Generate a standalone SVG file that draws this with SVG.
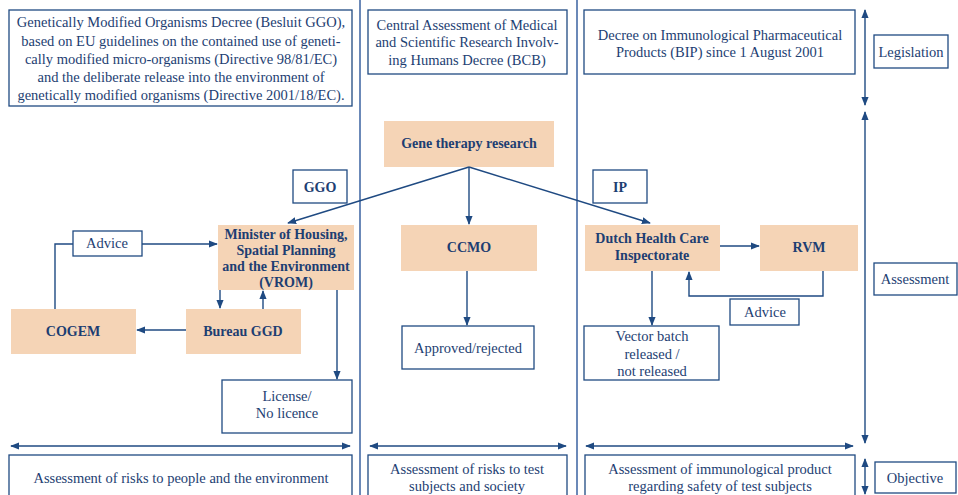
<svg xmlns="http://www.w3.org/2000/svg" width="958" height="495" viewBox="0 0 958 495">
<style>
text{font-family:"Liberation Serif","Times New Roman",serif;fill:#1d3e72;font-size:14.5px;text-anchor:middle}
.b{font-weight:bold;font-size:14px}
.box{fill:#fff;stroke:#1f4a82;stroke-width:1.3}
.fill{fill:#f5d4b6;stroke:none}
.ln{fill:none;stroke:#1f4a82;stroke-width:1.4}
.div{stroke:#3a62a0;stroke-width:1.5}
</style>
<defs>
<marker id="ah" viewBox="0 0 10 10" refX="9" refY="5" markerWidth="9" markerHeight="9" markerUnits="userSpaceOnUse" orient="auto-start-reverse">
<path d="M0,1 L10,5 L0,9 Z" fill="#1f4a82"/>
</marker>
</defs>
<rect width="958" height="495" fill="#fff"/>
<g id="dividers">
<line class="div" x1="360" y1="0" x2="360" y2="495"/>
<line class="div" x1="577" y1="0" x2="577" y2="495"/>
</g>
<g id="leg-ggo"><rect class="box" x="9" y="10" width="343" height="96"/>
<text x="181" y="27">Genetically Modified Organisms Decree (Besluit GGO),</text>
<text x="181" y="46">based on EU guidelines on the contained use of geneti-</text>
<text x="181" y="64">cally modified micro-organisms (Directive 98/81/EC)</text>
<text x="181" y="82">and the deliberate release into the environment of</text>
<text x="181" y="100">genetically modified organisms (Directive 2001/18/EC).</text></g>
<g id="leg-bcb"><rect class="box" x="368" y="10" width="199" height="64"/>
<text x="467" y="30">Central Assessment of Medical</text>
<text x="467" y="47">and Scientific Research Involv-</text>
<text x="467" y="65">ing Humans Decree (BCB)</text></g>
<g id="leg-bip"><rect class="box" x="584" y="10" width="271" height="64"/>
<text x="720" y="40">Decree on Immunological Pharmaceutical</text>
<text x="720" y="57">Products (BIP) since 1 August 2001</text></g>
<g id="legislation"><rect class="box" x="874" y="35" width="74" height="33"/><text x="911" y="57">Legislation</text></g>
<g id="assessment"><rect class="box" x="874" y="263" width="83" height="32"/><text x="915" y="284">Assessment</text></g>
<g id="objective"><rect class="box" x="875" y="462" width="81" height="31"/><text x="915" y="483">Objective</text></g>
<g id="obj-1"><rect class="box" x="9" y="455" width="343" height="50"/><text x="181" y="483">Assessment of risks to people and the environment</text></g>
<g id="obj-2"><rect class="box" x="368" y="455" width="199" height="50"/><text x="467" y="474">Assessment of risks to test</text><text x="467" y="491">subjects and society</text></g>
<g id="obj-3"><rect class="box" x="585" y="455" width="270" height="50"/><text x="720" y="474">Assessment of immunological product</text><text x="720" y="491">regarding safety of test subjects</text></g>
<g id="gene"><rect class="fill" x="384" y="121" width="170" height="46"/><text class="b" x="469" y="148">Gene therapy research</text></g>
<g id="ggo"><rect class="box" x="293" y="170" width="54" height="33"/><text class="b" x="320" y="192">GGO</text></g>
<g id="ip"><rect class="box" x="593" y="170" width="54" height="33"/><text class="b" x="620" y="192">IP</text></g>
<g id="vrom"><rect class="fill" x="218" y="225" width="136" height="65"/>
<text class="b" x="286" y="239">Minister of Housing,</text>
<text class="b" x="286" y="255">Spatial Planning</text>
<text class="b" x="286" y="271">and the Environment</text>
<text class="b" x="286" y="287">(VROM)</text></g>
<g id="advice-l"><rect class="box" x="73" y="231" width="69" height="25"/><text x="107" y="248">Advice</text></g>
<g id="cogem"><rect class="fill" x="11" y="309" width="125" height="45"/><text class="b" x="73" y="336">COGEM</text></g>
<g id="bureau"><rect class="fill" x="186" y="309" width="115" height="45"/><text class="b" x="243" y="336">Bureau GGD</text></g>
<g id="license"><rect class="box" x="222" y="380" width="130" height="53"/><text x="287" y="401">License/</text><text x="287" y="418">No licence</text></g>
<g id="ccmo"><rect class="fill" x="401" y="225" width="136" height="46"/><text class="b" x="469" y="252">CCMO</text></g>
<g id="approved"><rect class="box" x="402" y="326" width="132" height="43"/><text x="468" y="353">Approved/rejected</text></g>
<g id="igz"><rect class="fill" x="585" y="225" width="135" height="46"/><text class="b" x="652" y="243">Dutch Health Care</text><text class="b" x="652" y="260">Inspectorate</text></g>
<g id="rvm"><rect class="fill" x="760" y="225" width="98" height="46"/><text class="b" x="809" y="252">RVM</text></g>
<g id="advice-r"><rect class="box" x="730" y="299" width="69" height="26"/><text x="765" y="317">Advice</text></g>
<g id="vector"><rect class="box" x="584" y="326" width="135" height="54"/><text x="652" y="341">Vector batch</text><text x="652" y="359">released /</text><text x="652" y="376"> not released</text></g>
<g id="connectors">
<line class="ln" x1="469" y1="167" x2="288" y2="223" marker-end="url(#ah)"/>
<line class="ln" x1="469" y1="167" x2="469" y2="224" marker-end="url(#ah)"/>
<line class="ln" x1="469" y1="167" x2="650" y2="223" marker-end="url(#ah)"/>
<polyline class="ln" points="55,309 55,244 73,244"/>
<line class="ln" x1="142" y1="244" x2="217" y2="244" marker-end="url(#ah)"/>
<line class="ln" x1="220" y1="290" x2="220" y2="308" marker-end="url(#ah)"/>
<line class="ln" x1="263" y1="309" x2="263" y2="291" marker-end="url(#ah)"/>
<line class="ln" x1="186" y1="330" x2="137" y2="330" marker-end="url(#ah)"/>
<line class="ln" x1="337" y1="290" x2="337" y2="379" marker-end="url(#ah)"/>
<line class="ln" x1="467" y1="271" x2="467" y2="325" marker-end="url(#ah)"/>
<line class="ln" x1="720" y1="246" x2="759" y2="246" marker-end="url(#ah)"/>
<polyline class="ln" points="823,271 823,296 689,296 689,272" marker-end="url(#ah)"/>
<line class="ln" x1="652" y1="271" x2="652" y2="325" marker-end="url(#ah)"/>
<line class="ln" x1="11" y1="446" x2="350" y2="446" marker-start="url(#ah)" marker-end="url(#ah)"/>
<line class="ln" x1="370" y1="446" x2="566" y2="446" marker-start="url(#ah)" marker-end="url(#ah)"/>
<line class="ln" x1="586" y1="446" x2="853" y2="446" marker-start="url(#ah)" marker-end="url(#ah)"/>
<line class="ln" x1="865" y1="10" x2="865" y2="105" marker-start="url(#ah)" marker-end="url(#ah)"/>
<line class="ln" x1="865" y1="112" x2="865" y2="443" marker-start="url(#ah)" marker-end="url(#ah)"/>
<line class="ln" x1="865" y1="459" x2="865" y2="494" marker-start="url(#ah)" marker-end="url(#ah)"/>
</g>
</svg>
